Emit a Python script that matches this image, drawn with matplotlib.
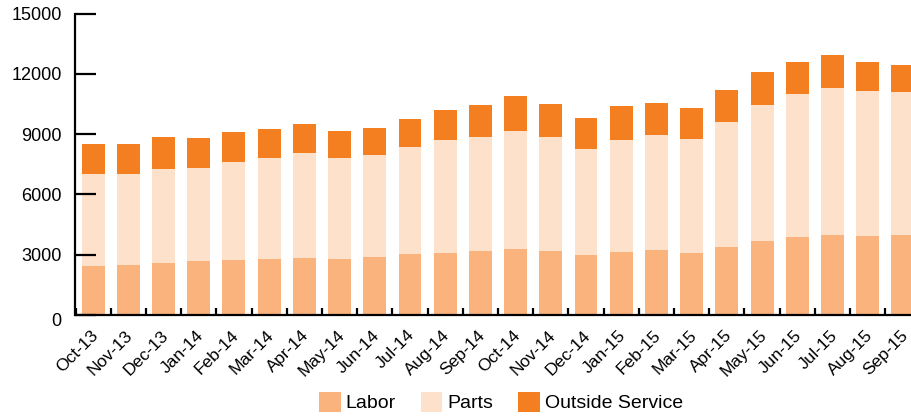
import matplotlib
matplotlib.use("Agg")
import matplotlib.pyplot as plt
import matplotlib.transforms as mtransforms
import numpy as np

months = ["Oct-13", "Nov-13", "Dec-13", "Jan-14", "Feb-14", "Mar-14", "Apr-14", "May-14",
          "Jun-14", "Jul-14", "Aug-14", "Sep-14", "Oct-14", "Nov-14", "Dec-14", "Jan-15",
          "Feb-15", "Mar-15", "Apr-15", "May-15", "Jun-15", "Jul-15", "Aug-15", "Sep-15"]
labor = [2440, 2490, 2590, 2690, 2740, 2790, 2840, 2790, 2890, 3040, 3090, 3190,
         3290, 3190, 2990, 3140, 3240, 3090, 3390, 3690, 3890, 3990, 3940, 3990]
parts = [4590, 4540, 4690, 4640, 4880, 5030, 5230, 5030, 5080, 5330, 5630, 5680,
         5880, 5680, 5280, 5580, 5730, 5680, 6230, 6770, 7120, 7320, 7220, 7120]
outside = [1500, 1500, 1590, 1500, 1500, 1450, 1450, 1350, 1350, 1400, 1500, 1600,
           1740, 1640, 1550, 1700, 1600, 1550, 1600, 1640, 1600, 1640, 1450, 1350]

series_names = ["Labor", "Parts", "Outside Service"]
colors = ["#FAB37D", "#FDE1CA", "#F47F21"]

plt.rcParams['font.family'] = ['Liberation Sans', 'DejaVu Sans']

fig = plt.figure(figsize=(9.12, 4.19), dpi=100)
ax = fig.add_axes([75.5 / 912, (419 - 315) / 419, 845 / 912, (315 - 13.7) / 419])

x = np.arange(len(months))
labor_a = np.array(labor)
parts_a = np.array(parts)
outside_a = np.array(outside)
w = 0.65
b1 = ax.bar(x, labor_a, w, color=colors[0], label=series_names[0])
b2 = ax.bar(x, parts_a, w, bottom=labor_a, color=colors[1], label=series_names[1])
b3 = ax.bar(x, outside_a, w, bottom=labor_a + parts_a, color=colors[2], label=series_names[2])

ax.set_xlim(-0.5, len(months) - 0.5)
ax.set_ylim(0, 15000)
ax.set_yticks([0, 3000, 6000, 9000, 12000, 15000])
ax.tick_params(axis='y', direction='in', length=15, width=1.6, labelsize=13, pad=10)
for lbl in ax.get_yticklabels():
    if lbl.get_text() == '0':
        pass
ylabels = ax.get_yticklabels()
ylabels[0].set_transform(ylabels[0].get_transform() +
                         mtransforms.ScaledTranslation(0, -4 / 100, fig.dpi_scale_trans))

ax.set_xticks(np.arange(len(months) + 1) - 0.5)
ax.set_xticklabels([])
ax.tick_params(axis='x', which='major', direction='in', length=5, width=1.6)
ax.set_xticks(x, minor=True)
ax.set_xticklabels(months, minor=True, rotation=45, ha='right', rotation_mode='anchor', fontsize=12.5)
ax.tick_params(axis='x', which='minor', length=0, pad=9)
offset = mtransforms.ScaledTranslation(-3 / 100, 0, fig.dpi_scale_trans)
for lbl in ax.get_xticklabels(minor=True):
    lbl.set_transform(lbl.get_transform() + offset)

for s in ['top', 'right']:
    ax.spines[s].set_visible(False)
for s in ['left', 'bottom']:
    ax.spines[s].set_linewidth(1.6)

fig.legend(handles=[b1, b2, b3], labels=series_names, loc='center',
           bbox_to_anchor=(501 / 912, 17 / 419), ncol=3, frameon=False,
           fontsize=14, handlelength=1.1, handleheight=1.2, handletextpad=0.25,
           columnspacing=1.3)

fig.savefig("out.png", dpi=100)
